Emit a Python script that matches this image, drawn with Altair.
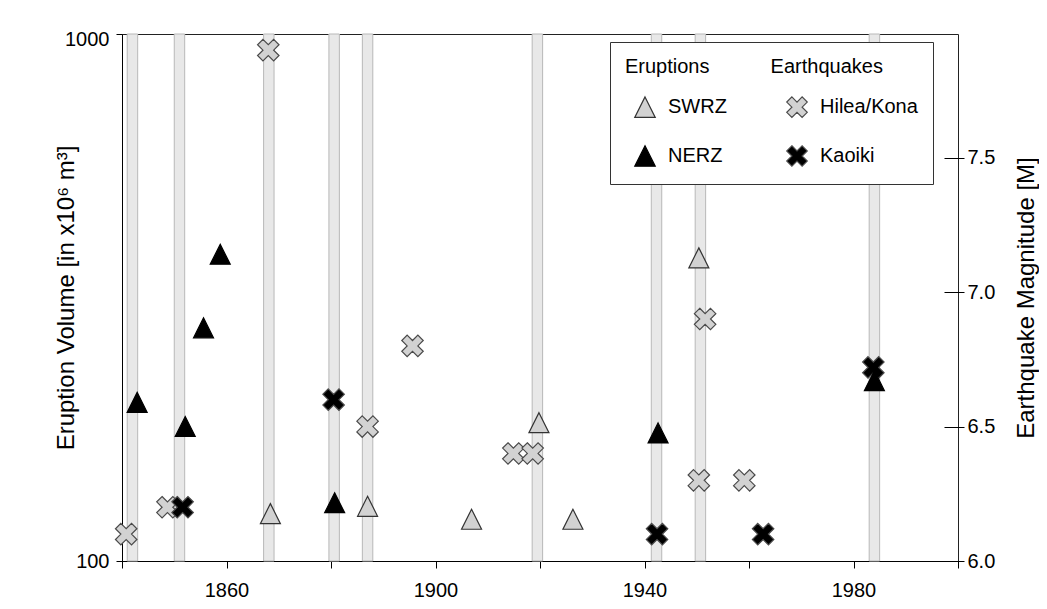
import altair as alt
import pandas as pd

# Grey vertical bands (start / end year)
bar_start = [1841.0, 1850.0, 1867.1, 1879.6, 1886.0, 1918.5, 1941.3, 1949.7, 1983.0]
bar_end = [1843.0, 1852.0, 1869.1, 1881.6, 1888.0, 1920.5, 1943.3, 1951.7, 1985.0]

# Eruptions (volume, x10^6 m^3)
swrz_year = [1868.4, 1887.0, 1906.9, 1919.8, 1926.3, 1950.4]
swrz_volume = [123, 127, 120, 183, 120, 376]
nerz_year = [1842.9, 1852.1, 1855.6, 1858.8, 1880.7, 1942.6, 1984.0]
nerz_volume = [200, 180, 277, 382, 129, 175, 220]

# Earthquakes (magnitude)
hilea_year = [1840.8, 1848.7, 1868.0, 1887.0, 1895.6, 1914.9, 1918.6, 1950.4, 1951.6, 1959.1]
hilea_mag = [6.1, 6.2, 7.9, 6.5, 6.8, 6.4, 6.4, 6.3, 6.9, 6.3]
kaoiki_year = [1851.6, 1880.5, 1942.4, 1962.7, 1983.8]
kaoiki_mag = [6.2, 6.6, 6.1, 6.1, 6.72]

x_ticks = [1840, 1860, 1880, 1900, 1920, 1940, 1960, 1980, 2000]
vol_ticks = [100, 1000]
mag_ticks = [6.0, 6.5, 7.0, 7.5]

categories = ["SWRZ", "NERZ", "Hilea/Kona", "Kaoiki"]
TRI = "M0,-1L1,1L-1,1Z"
XS = "M-0.5,-1L0,-0.5L0.5,-1L1,-0.5L0.5,0L1,0.5L0.5,1L0,0.5L-0.5,1L-1,0.5L-0.5,0L-1,-0.5Z"
shapes = [TRI, TRI, XS, XS]
fills = ["#d2d2d2", "#000000", "#d2d2d2", "#000000"]
strokes = ["#333333", "#000000", "#4a4a4a", "#4a4a4a"]

FONT = "Liberation Sans"

bars = pd.DataFrame({"start": bar_start, "end": bar_end})
erupt = pd.DataFrame({
    "year": swrz_year + nerz_year,
    "volume": swrz_volume + nerz_volume,
    "type": ["SWRZ"] * len(swrz_year) + ["NERZ"] * len(nerz_year),
})
quake = pd.DataFrame({
    "year": hilea_year + kaoiki_year,
    "mag": hilea_mag + kaoiki_mag,
    "type": ["Hilea/Kona"] * len(hilea_year) + ["Kaoiki"] * len(kaoiki_year),
})

xscale = alt.Scale(domain=[1840, 2000], nice=False, zero=False)
xaxis = alt.Axis(values=x_ticks, format="d", title=None, tickSize=7, labelPadding=12,
                 labelExpr="datum.value % 40 == 20 ? datum.label : ''", labelFlush=False)

legend = alt.Legend(
    title="Eruptions" + "\u00a0" * 11 + "Earthquakes",
    orient="none", legendX=488, legendY=8, columns=2, columnPadding=50,
    rowPadding=23, symbolSize=420, symbolStrokeWidth=1.2, symbolOpacity=1,
    symbolOffset=9,
    labelFontSize=20, titleFontSize=20, titleFont=FONT, labelFont=FONT,
    titleFontWeight="normal", titlePadding=19, padding=15,
    strokeColor="#333333", fillColor="white", labelOffset=12,
    titleLimit=500, labelLimit=300, titleColor="#000", labelColor="#000",
)

shape_enc = lambda: alt.Shape("type:N", scale=alt.Scale(domain=categories, range=shapes), legend=legend)
fill_enc = lambda: alt.Fill("type:N", scale=alt.Scale(domain=categories, range=fills), legend=legend)
stroke_enc = lambda: alt.Stroke("type:N", scale=alt.Scale(domain=categories, range=strokes), legend=legend)

bars_ch = alt.Chart(bars).mark_rect(fill="#e8e8e8", stroke="#b8b8b8", strokeWidth=1).encode(
    x=alt.X("start:Q", scale=xscale, axis=xaxis),
    x2="end:Q",
)

quake_ch = alt.Chart(quake).mark_point(filled=True, size=460, strokeWidth=1.2, opacity=1).encode(
    x=alt.X("year:Q", scale=xscale, axis=xaxis),
    y=alt.Y("mag:Q", scale=alt.Scale(domain=[6.0, 7.96], nice=False, zero=False),
            axis=alt.Axis(orient="right", values=mag_ticks, format=".1f",
                          title="Earthquake Magnitude [M]", offset=-14, tickSize=20,
                          domain=False, labelPadding=3, titleAngle=270,
                          titleBaseline="bottom", titleX=94, titleFontSize=24)),
    shape=shape_enc(), fill=fill_enc(), stroke=stroke_enc(),
)

erupt_ch = alt.Chart(erupt).mark_point(filled=True, size=400, strokeWidth=1.2, opacity=1).encode(
    x=alt.X("year:Q", scale=xscale, axis=xaxis),
    y=alt.Y("volume:Q", scale=alt.Scale(type="log", domain=[100, 1000], nice=False),
            axis=alt.Axis(orient="left", values=vol_ticks, format="d",
                          title="Eruption Volume [in x10\u2076 m\u00b3]", tickSize=6,
                          labelPadding=7, titleAngle=270, titleBaseline="bottom",
                          titleX=-44, labelFlush=False, titleFontSize=24,
                          labelOffset={"condition": {"test": "datum.value >= 1000", "value": 5}, "value": 0})),
    shape=shape_enc(), fill=fill_enc(), stroke=stroke_enc(),
)

chart = alt.layer(bars_ch, quake_ch, erupt_ch).resolve_scale(
    y="independent"
).properties(
    width=836, height=527,
    autosize=alt.AutoSizeParams(type="none"),
    padding={"left": 114, "top": 26, "right": 81, "bottom": 38},
).configure_view(
    stroke="#222222", strokeWidth=1
).configure_axis(
    labelFont=FONT, titleFont=FONT, labelFontSize=20, titleFontSize=20,
    labelColor="#000", titleColor="#000", domainColor="#000", tickColor="#000",
    grid=False, titleFontWeight="normal",
)

chart.save("out.html", embed_options={"renderer": "svg", "actions": False})
